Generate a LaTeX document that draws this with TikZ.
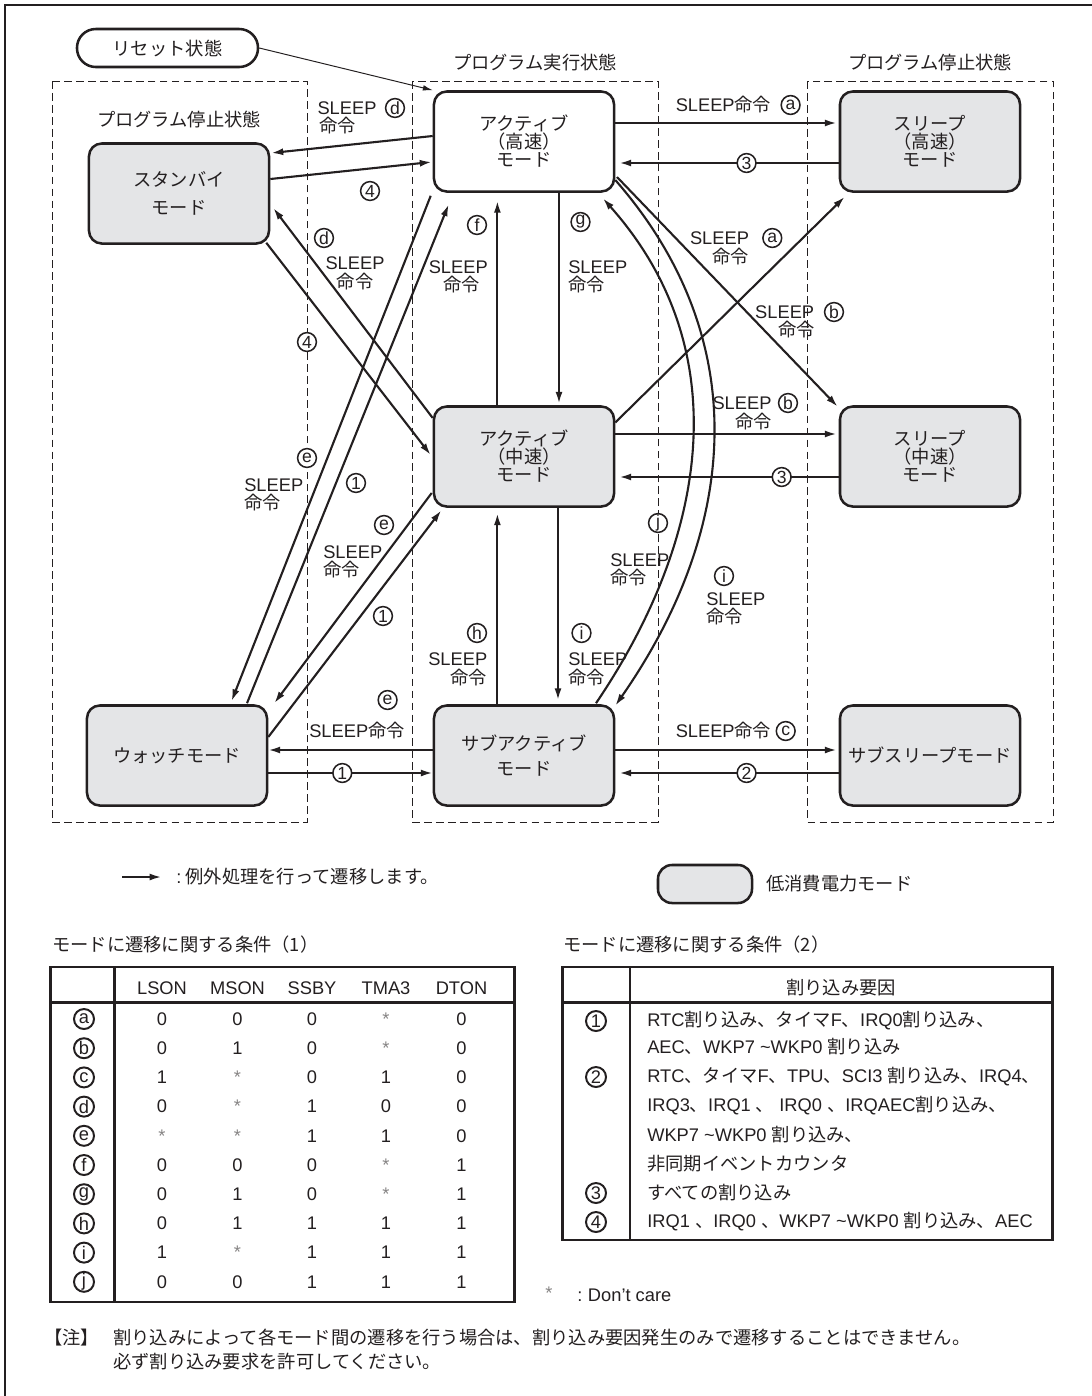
\documentclass[tikz,border=0pt]{standalone}
\usepackage{fontspec}
\setmainfont{Liberation Sans}
\newfontfamily\jpfont{Noto Sans CJK JP}
\usetikzlibrary{arrows.meta,calc,positioning}
\definecolor{ink}{RGB}{35,31,32}
\definecolor{modegray}{RGB}{228,229,231}
\newcommand{\anyv}{\textcolor{ink!55}{*}}
\newcommand{\jt}[1]{{\jpfont #1}}

\begin{document}
\begin{tikzpicture}[x=0.025cm, y=-0.025cm, color=ink,
  font=\fontsize{13}{13}\selectfont,
  mode/.style={draw, line width=1.8pt, rounded corners=0.32cm, fill=modegray,
    minimum width=4.5cm, minimum height=2.5cm, inner sep=0pt, align=center,
    font=\jpfont\fontsize{13}{12.8}\selectfont},
  arr/.style={-{Latex[length=8.5pt,width=5pt]}, line width=1.5pt},
  circ/.style={circle, draw, line width=1.1pt, fill=white, inner sep=0pt,
    minimum size=0.47cm, font=\fontsize{12.5}{12.5}\selectfont},
  tcirc/.style={circ, line width=1.4pt, minimum size=0.5cm, font=\fontsize{13}{13}\selectfont},
  zone/.style={dash pattern=on 5.5pt off 3pt, line width=0.7pt},
  lbl/.style={inner sep=0pt},
  jlbl/.style={inner sep=0pt, font=\jpfont\fontsize{13}{13}\selectfont},
  tab/.style={line width=1.6pt}]
\useasboundingbox (0,0) rectangle (1092,1396);
\draw[line width=1.6pt] (5,1396) -- (5,5) -- (1092,5);

% dashed state zones
\draw[zone] (52,81) rectangle (307,822);
\draw[zone] (412,81) rectangle (658,822);
\draw[zone] (807.5,81) rectangle (1053,822);
\node[jlbl] (zl) at (179,120) {プログラム停止状態};
\node[jlbl] (zm) at (535,63) {プログラム実行状態};
\node[jlbl] (zr) at (930,63) {プログラム停止状態};

% mode boxes
\node[draw, line width=1.8pt, rounded corners=0.47cm, fill=white, minimum width=4.525cm,
  minimum height=0.95cm, inner sep=0pt, font=\jpfont\fontsize{13}{13}\selectfont] (reset) at (167.5,48) {リセット状態};
\node[mode, fill=white] (high) at (524,141.5) {アクティブ\\（高速）\\モード};
\node[mode] (standby) at (179,193.5) {スタンバイ\\[7pt]モード};
\node[mode] (sleephi) at (930,141.5) {スリープ\\（高速）\\モード};
\node[mode] (mid) at (524,456.5) {アクティブ\\（中速）\\モード};
\node[mode] (sleepmid) at (930,456.5) {スリープ\\（中速）\\モード};
\node[mode] (watch) at (177,755.5) {ウォッチモード};
\node[mode] (sub) at (524,755.5) {サブアクティブ\\[5.5pt]モード};
\node[mode] (subsleep) at (930,755.5) {サブスリープモード};

% transitions
\draw[-{Latex[length=7pt,width=4pt]}, line width=0.7pt] (reset.east) -- (high.north west);
\draw[arr] ($(high.west)+(0,-5.5)$) -- ($(standby.east)+(1,-40.5)$);
\draw[arr] ($(standby.east)+(0,-14.5)$) -- ($(high.west)+(-1,20.5)$);
\draw[arr] ($(mid.west)+(0,-38.5)$) -- ($(standby.east)+(3,14.5)$);
\draw[arr] ($(standby.south east)+(-4,-2)$) -- ($(mid.west)+(-2,-1.5)$);
\draw[arr] ($(high.south west)+(-2,3)$) -- ($(watch.north)+(54.5,-3)$);
\draw[arr] ($(watch.north)+(70,-1)$) -- ($(high.south west)+(16,11.5)$);
\draw[arr] ($(mid.west)+(-1,36.5)$) -- ($(watch.north east)+(6,-1)$);
\draw[arr] ($(watch.east)+(0,-18.5)$) -- ($(mid.south west)+(8.6,2.5)$);
\draw[arr] ($(sub.west)+(0,-5.5)$) -- ($(watch.east)+(0,-5.5)$);
\draw[arr] ($(watch.east)+(0,17.5)$) -- node[circ, pos=0.45] (n1w) {1} ($(sub.west)+(0,17.5)$);

\draw[arr] ($(mid.north)+(-26.6,0)$) -- ($(high.south)+(-26.6,8)$);
\draw[arr] ($(high.south)+(35,0)$) -- ($(mid.north)+(35,-1.5)$);
\draw[arr] ($(mid.south)+(34,0)$) -- ($(sub.north)+(34,-4)$);
\draw[arr] ($(sub.north)+(-26.6,0)$) -- ($(mid.south)+(-26.6,5.5)$);

\draw[arr] ($(high.east)+(0,-18.5)$) -- ($(sleephi.west)+(-2,-18.5)$);
\draw[arr] ($(sleephi.west)+(0,21.5)$) -- node[circ, pos=0.42] (n3h) {3} ($(high.east)+(4,21.5)$);
\draw[arr] ($(mid.east)+(0,-22.5)$) -- ($(sleepmid.west)+(-2,-22.5)$);
\draw[arr] ($(sleepmid.west)+(0,20.5)$) -- node[circ, pos=0.26] (n3m) {3} ($(mid.east)+(4,20.5)$);
\draw[arr] ($(sub.east)+(0,-5.5)$) -- ($(subsleep.west)+(-2,-5.5)$);
\draw[arr] ($(subsleep.west)+(0,17.5)$) -- node[circ, pos=0.42] (n2s) {2} ($(sub.east)+(4,17.5)$);

\draw[arr] ($(mid.east)+(0,-34)$) -- ($(sleephi.south west)+(6,4)$);
\draw[arr] ($(high.east)+(1.7,35.5)$) -- ($(sleepmid.north west)+(-1,1.5)$);

% the two long curves
\draw[arr] ($(sub.north)+(72,-1)$) .. controls (708,538) and (738,350) .. ($(high.south east)+(-12.4,5.5)$);
\draw[arr] ($(high.east)+(0,38.5)$) .. controls (756,341) and (737,531) .. ($(sub.north east)+(0,1.5)$);

% conditions on the left
\node[lbl] (sd1) at (347,108) {SLEEP};
\node[circ] (cd1) at (395,108) {d};
\node[jlbl, anchor=west] (md1) at (319,126) {命令};
\node[circ] (c4a) at (370,191) {4};
\node[circ] (cd2) at (324,238) {d};
\node[lbl] (sd2) at (355,263) {SLEEP};
\node[jlbl] (md2) at (355,282) {命令};
\node[circ] (c4b) at (307,342) {4};
\node[circ] (ce1) at (307,458) {e};
\node[lbl, anchor=west] (se1) at (244,485) {SLEEP};
\node[jlbl, anchor=west] (me1) at (244,503) {命令};
\node[circ] (c1a) at (356,483) {1};
\node[circ] (ce2) at (384,525) {e};
\node[lbl, anchor=west] (se2) at (323,552) {SLEEP};
\node[jlbl, anchor=west] (me2) at (323,570) {命令};
\node[circ] (c1b) at (383,616) {1};
\node[circ] (ce3) at (387.6,700) {e};
\node[lbl, anchor=west] (se3) at (309,731) {SLEEP\jt{命令}};

% conditions in the middle
\node[circ] (cf) at (477,225) {f};
\node[lbl, anchor=east] (sf) at (488,267) {SLEEP};
\node[jlbl, anchor=east] (mf) at (480,285) {命令};
\node[circ] (cg) at (580.5,222) {g};
\node[lbl, anchor=west] (sg) at (568,267) {SLEEP};
\node[jlbl, anchor=west] (mg) at (568,285) {命令};
\node[circ] (ch) at (477,633) {h};
\node[lbl, anchor=east] (sh) at (487.5,659) {SLEEP};
\node[jlbl, anchor=east] (mh) at (487.5,678) {命令};
\node[circ] (ci1) at (581.5,633) {i};
\node[lbl, anchor=west] (si1) at (568,659) {SLEEP};
\node[jlbl, anchor=west] (mi1) at (568,678) {命令};
\node[circ] (cj) at (658,523) {j};
\node[lbl, anchor=west] (sj) at (610,560) {SLEEP};
\node[jlbl, anchor=west] (mj) at (610,578) {命令};
\node[circ] (ci2) at (724,576) {i};
\node[lbl, anchor=west] (si2) at (706,599) {SLEEP};
\node[jlbl, anchor=west] (mi2) at (706,617) {命令};

% conditions on the right
\node[lbl] (sa1) at (723.5,105) {SLEEP\jt{命令}};
\node[circ] (ca1) at (790.6,105) {a};
\node[lbl] (sa2) at (719.5,238) {SLEEP};
\node[circ] (ca2) at (772.3,238) {a};
\node[jlbl] (ma2) at (730.5,257) {命令};
\node[lbl] (sb1) at (784.7,312) {SLEEP};
\node[circ] (cb1) at (834,312) {b};
\node[jlbl] (mb1) at (796.7,330) {命令};
\node[lbl] (sb2) at (742,403) {SLEEP};
\node[circ] (cb2) at (788,403) {b};
\node[jlbl] (mb2) at (753.7,422) {命令};
\node[lbl] (sc) at (723.5,731) {SLEEP\jt{命令}};
\node[circ] (cc) at (785.7,731) {c};

% legend
\coordinate (lgA) at (122,877);
\coordinate (lgB) at (161.5,877);
\draw[arr] (lgA) -- (lgB);
\node[lbl, anchor=west] (lgt1) at (176,877) {:\hspace{3pt}\jt{例外処理を行って遷移します。}};
\node[mode, minimum width=2.35cm, minimum height=0.95cm, rounded corners=0.35cm] (lgbox) at (705,884) {};
\node[jlbl, anchor=west] (lgt2) at (766,884) {低消費電力モード};

% table (1)
\node[jlbl, anchor=west] (tt1) at (52,945) {モードに遷移に関する条件（1）};
\draw[tab] (50.5,967) rectangle (514.5,1302);
\draw[tab] (114.5,967) -- (114.5,1302);
\draw[tab] (50.5,1002.5) -- (514.5,1002.5);
\foreach \h/\x in {LSON/162, MSON/237.5, SSBY/312, TMA3/386, DTON/461.5}
  \node[lbl] (th\h) at (\x,988) {\h};
\foreach \r/\va/\vb/\vc/\vd/\ve [count=\k] in {a/0/0/0/\anyv/0, b/0/1/0/\anyv/0,
    c/1/\anyv/0/1/0, d/0/\anyv/1/0/0, e/\anyv/\anyv/1/1/0, f/0/0/0/\anyv/1,
    g/0/1/0/\anyv/1, h/0/1/1/1/1, i/1/\anyv/1/1/1, j/0/0/1/1/1} {
  \pgfmathsetmacro{\ry}{1019+29.2*(\k-1)}
  \node[tcirc] (tr\k) at (84,\ry) {\r};
  \node[lbl] (tr\k a) at (162,\ry) {\va};
  \node[lbl] (tr\k b) at (237.5,\ry) {\vb};
  \node[lbl] (tr\k c) at (312,\ry) {\vc};
  \node[lbl] (tr\k d) at (386,\ry) {\vd};
  \node[lbl] (tr\k e) at (461.5,\ry) {\ve};
}

% table (2)
\node[jlbl, anchor=west] (tt2) at (563,945) {モードに遷移に関する条件（2）};
\draw[tab] (562.5,967) rectangle (1052.5,1240);
\draw[tab] (630,967) -- (630,1240);
\draw[tab] (562.5,1002.5) -- (1052.5,1002.5);
\node[jlbl] (th2) at (841,988) {割り込み要因};
\node[tcirc] (tn1) at (596,1021) {1};
\node[tcirc] (tn2) at (596,1077) {2};
\node[tcirc] (tn3) at (596,1193) {3};
\node[tcirc] (tn4) at (596,1222) {4};
\node[lbl, anchor=west] (tl1) at (647,1021) {RTC\jt{割り込み、タイマ}F\jt{、}IRQ0\jt{割り込み、}};
\node[lbl, anchor=west] (tl2) at (647,1047) {AEC\jt{、}WKP7 \textasciitilde WKP0 \jt{割り込み}};
\node[lbl, anchor=west] (tl3) at (647,1077) {RTC\jt{、タイマ}F\jt{、}TPU\jt{、}SCI3 \jt{割り込み、}IRQ4\jt{、}};
\node[lbl, anchor=west] (tl4) at (647,1106) {IRQ3\jt{、}IRQ1 \jt{、} IRQ0 \jt{、}IRQAEC\jt{割り込み、}};
\node[lbl, anchor=west] (tl5) at (647,1135) {WKP7 \textasciitilde WKP0 \jt{割り込み、}};
\node[jlbl, anchor=west] (tl6) at (647,1164) {非同期イベントカウンタ};
\node[jlbl, anchor=west] (tl7) at (647,1193) {すべての割り込み};
\node[lbl, anchor=west] (tl8) at (647,1222) {IRQ1 \jt{、}IRQ0 \jt{、}WKP7 \textasciitilde WKP0 \jt{割り込み、}AEC};

\node[lbl] (dcs) at (549,1293) {\anyv};
\node[lbl, anchor=west] (dct) at (577,1295) {:\hspace{4pt}Don't care};

% note
\node[jlbl, anchor=west] (nt0) at (44,1338) {【注】};
\node[jlbl, anchor=west] (nt1) at (113,1338) {割り込みによって各モード間の遷移を行う場合は、割り込み要因発生のみで遷移することはできません。};
\node[jlbl, anchor=west] (nt2) at (113,1362) {必ず割り込み要求を許可してください。};
\end{tikzpicture}
\end{document}
